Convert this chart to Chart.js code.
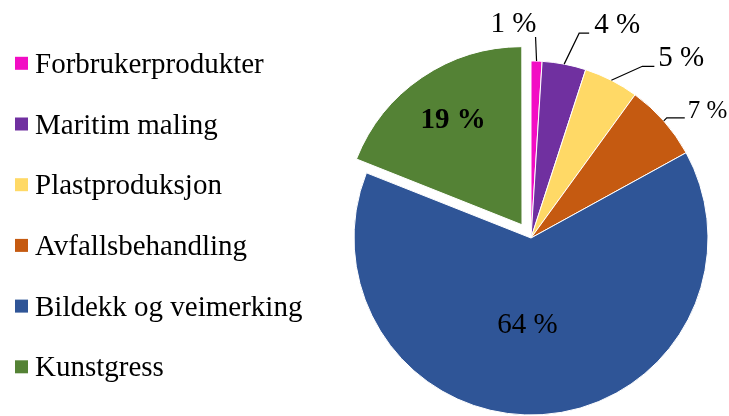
<!DOCTYPE html>
<html>
<head>
<meta charset="utf-8">
<script src="https://cdn.jsdelivr.net/npm/chart.js@4.4.1/dist/chart.umd.min.js"></script>
<style>
  html, body { margin: 0; padding: 0; background: #fff; }
  #wrap { width: 729px; height: 416px; position: relative; }
</style>
</head>
<body>
<div id="wrap"><canvas id="pie-chart"></canvas></div>
<script>
const categories = ['Forbrukerprodukter', 'Maritim maling', 'Plastproduksjon', 'Avfallsbehandling', 'Bildekk og veimerking', 'Kunstgress'];
const shares = [1, 4, 5, 7, 64, 19];
const sliceColors = ['#F20DC4', '#7030A0', '#FFD966', '#C55A11', '#2F5597', '#548235'];
const explode = [0, 0, 0, 0, 0, 64];

const serif = '"Liberation Serif", "Times New Roman", serif';

// where each percentage goes: leader line (elbow + horizontal run) or inside the slice
const labelPlacement = [
  {elbow: [-1, -24], run: 0, text: [-22, -5], align: 'center', size: 29},
  {elbow: [15, -31], run: 10, text: [5, 0], align: 'left', size: 29},
  {elbow: [31, -14], run: 12, text: [4, 0], align: 'left', size: 29},
  {elbow: [3, -3], run: 18, text: [3, 0], align: 'left', size: 25},
  {inside: 88, nudge: [-9, 0], size: 29},
  {inside: 126, nudge: [2, 0], size: 29, bold: true}
];

const pctLabel = v => Math.round(v) + ' %';

const sideLegend = {
  id: 'sideLegend',
  afterDraw(chart) {
    const ctx = chart.ctx;
    const ds = chart.data.datasets[0];
    ctx.save();
    ctx.font = '29px ' + serif;
    ctx.textBaseline = 'alphabetic';
    ctx.textAlign = 'left';
    chart.data.labels.forEach((lbl, i) => {
      const cy = 63.3 + i * 60.7;
      ctx.fillStyle = ds.backgroundColor[i];
      ctx.fillRect(15, cy - 6.5, 13, 13);
      ctx.fillStyle = '#000';
      ctx.fillText(lbl, 35, cy + 9.5);
    });
    ctx.restore();
  }
};

const sliceLabels = {
  id: 'sliceLabels',
  afterDatasetsDraw(chart) {
    const ctx = chart.ctx;
    const meta = chart.getDatasetMeta(0);
    const values = chart.data.datasets[0].data;
    ctx.save();
    meta.data.forEach((arc, i) => {
      const p = labelPlacement[i];
      const mid = (arc.startAngle + arc.endAngle) / 2;
      const shift = (arc.options.offset || 0) / 4;
      const cx = arc.x + Math.cos(mid) * shift;
      const cy = arc.y + Math.sin(mid) * shift;
      const txt = pctLabel(values[i]);
      ctx.fillStyle = '#000';
      if (p.inside) {
        ctx.font = (p.bold ? 'bold ' : '') + p.size + 'px ' + serif;
        ctx.textAlign = 'center';
        ctx.textBaseline = 'middle';
        ctx.fillText(txt, cx + Math.cos(mid) * p.inside + p.nudge[0], cy + Math.sin(mid) * p.inside + p.nudge[1]);
        return;
      }
      const ax = cx + Math.cos(mid) * arc.outerRadius;
      const ay = cy + Math.sin(mid) * arc.outerRadius;
      const ex = ax + p.elbow[0], ey = ay + p.elbow[1];
      const fx = ex + p.run;
      ctx.strokeStyle = '#000';
      ctx.lineWidth = 1.2;
      ctx.beginPath();
      ctx.moveTo(ax, ay);
      ctx.lineTo(ex, ey);
      if (p.run) ctx.lineTo(fx, ey);
      ctx.stroke();
      ctx.font = p.size + 'px ' + serif;
      ctx.textAlign = p.align;
      ctx.textBaseline = 'alphabetic';
      ctx.fillText(txt, fx + p.text[0], ey + p.text[1]);
    });
    ctx.restore();
  }
};

new Chart(document.getElementById('pie-chart'), {
  type: 'pie',
  data: {
    labels: categories,
    datasets: [{
      data: shares,
      backgroundColor: sliceColors,
      borderColor: '#ffffff',
      borderWidth: 1,
      offset: explode
    }]
  },
  options: {
    responsive: true,
    maintainAspectRatio: false,
    animation: false,
    radius: 177,
    layout: { padding: { left: 333, top: 60, right: 0, bottom: 0 } },
    plugins: {
      legend: { display: false },
      tooltip: { enabled: false }
    }
  },
  plugins: [sideLegend, sliceLabels]
});
</script>
</body>
</html>
